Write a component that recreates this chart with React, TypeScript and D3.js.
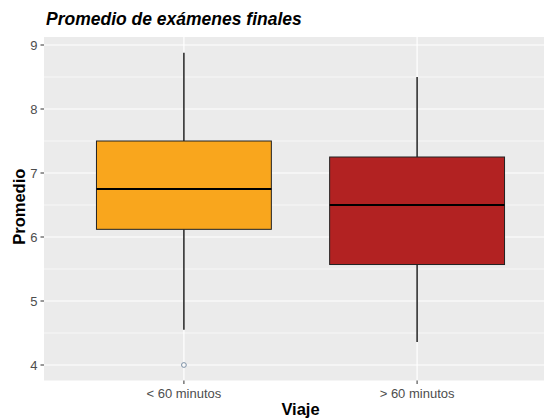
import React from "react";
import * as d3 from "d3";

const categories = ["< 60 minutos", "> 60 minutos"];
const lowerWhisker = [4.55, 4.36];
const q1 = [6.12, 5.57];
const median = [6.75, 6.5];
const q3 = [7.5, 7.25];
const upperWhisker = [8.88, 8.5];
const fills = ["#F9A61D", "#B22222"];
const outliers = [{ cat: "< 60 minutos", value: 4.0 }];
const yTicks = [4, 5, 6, 7, 8, 9];
const yMinor = [4.5, 5.5, 6.5, 7.5, 8.5];

const W = 544;
const H = 419;
const panel = { left: 44, right: 557, top: 37, bottom: 380.5 };

export default function App() {
  const x = d3
    .scaleBand()
    .domain(categories)
    .range([panel.left, panel.right])
    .paddingInner(0)
    .paddingOuter(0.1);
  const y = d3.scaleLinear().domain([4, 9]).range([365, 45]);
  const step = x.step();
  const boxW = step * 0.75;
  const cx = (c: string) => (x(c) as number) + x.bandwidth() / 2;
  const font = "'Liberation Sans', Arial, sans-serif";

  return (
    <svg
      width={W}
      height={H}
      style={{ position: "absolute", left: 0, top: 0, background: "#fff" }}
      fontFamily={font}
    >
      <defs>
        <clipPath id="clip">
          <rect x={0} y={0} width={W} height={H} />
        </clipPath>
      </defs>
      <text x={46} y={24.5} fontSize={17.5} fontWeight="bold" fontStyle="italic" fill="#000">
        Promedio de exámenes finales
      </text>
      <g clipPath="url(#clip)">
        <rect
          x={panel.left}
          y={panel.top}
          width={panel.right - panel.left}
          height={panel.bottom - panel.top}
          fill="#EBEBEB"
        />
        {yMinor.map((t) => (
          <line key={"m" + t} x1={panel.left} x2={panel.right} y1={y(t)} y2={y(t)} stroke="#fff" strokeWidth={0.6} />
        ))}
        {yTicks.map((t) => (
          <line key={"g" + t} x1={panel.left} x2={panel.right} y1={y(t)} y2={y(t)} stroke="#fff" strokeWidth={1.2} />
        ))}
        {categories.map((c) => (
          <line key={"v" + c} x1={cx(c)} x2={cx(c)} y1={panel.top} y2={panel.bottom} stroke="#fff" strokeWidth={1.2} />
        ))}
        {categories.map((c, i) => (
          <g key={"b" + c}>
            <line x1={cx(c)} x2={cx(c)} y1={y(upperWhisker[i])} y2={y(q3[i])} stroke="#000" strokeWidth={1.3} />
            <line x1={cx(c)} x2={cx(c)} y1={y(q1[i])} y2={y(lowerWhisker[i])} stroke="#000" strokeWidth={1.3} />
            <rect
              x={cx(c) - boxW / 2}
              y={y(q3[i])}
              width={boxW}
              height={y(q1[i]) - y(q3[i])}
              fill={fills[i]}
              stroke="#222"
              strokeWidth={1}
            />
            <line
              x1={cx(c) - boxW / 2}
              x2={cx(c) + boxW / 2}
              y1={y(median[i])}
              y2={y(median[i])}
              stroke="#000"
              strokeWidth={2.2}
            />
          </g>
        ))}
        {outliers.map((o, i) => (
          <circle key={"o" + i} cx={cx(o.cat)} cy={y(o.value)} r={2.4} fill="none" stroke="#7F93A8" strokeWidth={1} />
        ))}
      </g>
      {yTicks.map((t) => (
        <g key={"yt" + t}>
          <line x1={panel.left - 3.5} x2={panel.left} y1={y(t)} y2={y(t)} stroke="#333" strokeWidth={1} />
          <text x={panel.left - 6.5} y={y(t)} dy="0.36em" textAnchor="end" fontSize={13} fill="#4D4D4D">
            {t}
          </text>
        </g>
      ))}
      {categories.map((c) => (
        <g key={"xt" + c}>
          <line x1={cx(c)} x2={cx(c)} y1={panel.bottom} y2={panel.bottom + 3.5} stroke="#333" strokeWidth={1} />
          <text x={cx(c)} y={398} textAnchor="middle" fontSize={13} fill="#4D4D4D">
            {c}
          </text>
        </g>
      ))}
      <text x={(panel.left + panel.right) / 2} y={415} textAnchor="middle" fontSize={16.5} fontWeight="bold" fill="#000">
        Viaje
      </text>
      <text
        transform={`translate(25,${(panel.top + panel.bottom) / 2 - 2}) rotate(-90)`}
        textAnchor="middle"
        fontSize={16.5}
        fontWeight="bold"
        fill="#000"
      >
        Promedio
      </text>
    </svg>
  );
}
